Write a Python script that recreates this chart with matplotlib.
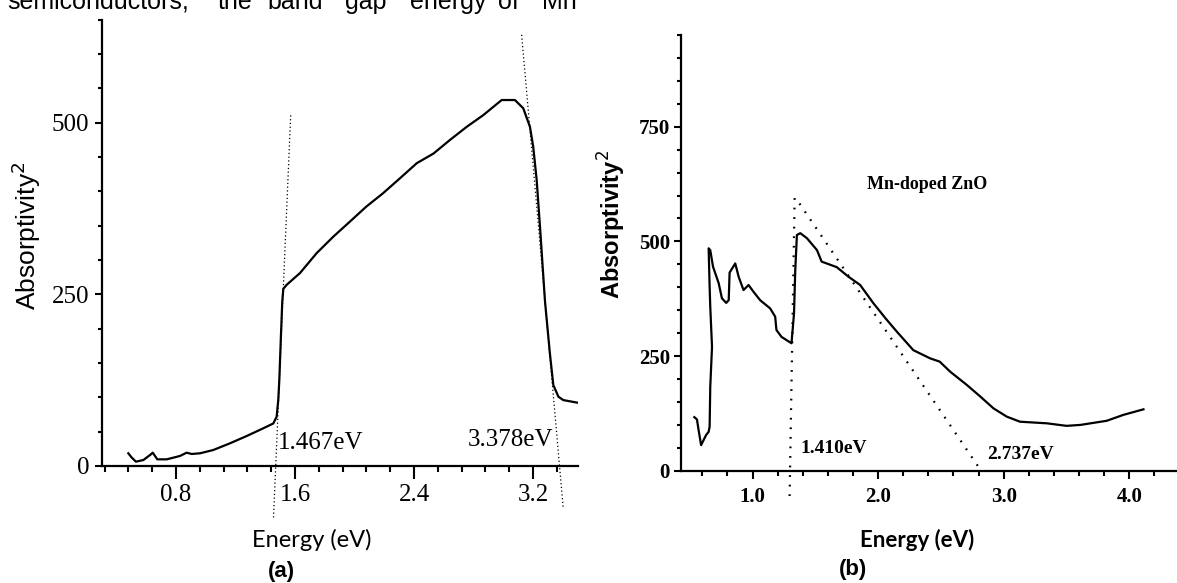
import numpy as np
import matplotlib.pyplot as plt
from matplotlib.ticker import MultipleLocator

# (a) absorptivity^2 vs energy
energy_a = [0.479, 0.50, 0.53, 0.58, 0.625, 0.643, 0.674, 0.737, 0.826, 0.871,
            0.905, 0.961, 1.05, 1.162, 1.275, 1.386, 1.454, 1.476, 1.487, 1.494,
            1.505, 1.514, 1.521, 1.544, 1.633, 1.745, 1.857, 1.969, 2.08, 2.19,
            2.305, 2.418, 2.53, 2.642, 2.754, 2.865, 2.955, 2.989, 3.078, 3.134,
            3.179, 3.201, 3.224, 3.247, 3.28, 3.313, 3.336, 3.37, 3.403, 3.504]
absorp_a = [18.5, 12.7, 6.3, 8.7, 16, 19.4, 9.7, 9.7, 14.6, 19.4,
            17.5, 18.5, 23.3, 33, 43.7, 54.9, 62, 71.8, 96, 125,
            190, 240, 258, 264, 281, 310, 334, 356, 378, 397,
            419, 441, 455, 475, 494, 511, 527, 533, 533, 521,
            494, 465, 417, 347, 240, 164, 118, 101, 96, 92]
# tangent lines (a)
tan1_a_x = [1.455, 1.571]
tan1_a_y = [-75, 513]
tan2_a_x = [3.123, 3.403]
tan2_a_y = [628, -62]

# (b) Mn-doped ZnO
energy_b = [0.536, 0.557, 0.57, 0.59, 0.61, 0.63, 0.65, 0.658, 0.663, 0.677,
            0.663, 0.658, 0.65, 0.663, 0.685, 0.73, 0.756, 0.79, 0.81, 0.817,
            0.862, 0.889, 0.928, 0.968, 1.008, 1.06, 1.14, 1.18, 1.19, 1.23,
            1.31, 1.33, 1.34, 1.353, 1.38, 1.433, 1.513, 1.55, 1.67, 1.764,
            1.857, 1.963, 2.06, 2.15, 2.28, 2.415, 2.49, 2.574, 2.707, 2.813,
            2.919, 3.025, 3.13, 3.344, 3.5, 3.61, 3.82, 3.954, 4.113]
absorp_b = [117, 112, 89, 56, 67, 78, 85, 96, 183, 270,
            358, 401, 485, 481, 445, 409, 376, 366, 372, 432,
            452, 423, 394, 405, 390, 372, 354, 336, 307, 292,
            278, 343, 438, 514, 518, 507, 481, 456, 444, 423,
            405, 365, 332, 303, 263, 245, 238, 216, 187, 162,
            136, 118, 107, 103.5, 98, 100, 109, 122, 134]
tan_b_x = [1.295, 1.335, 1.35, 2.82]
tan_b_y = [-55, 595, 592, 0]

W, H = 1177, 583
fig = plt.figure(figsize=(W / 100, H / 100), dpi=100)

# cut-off line of body text at the top
words = ['semiconductors,', 'the', 'band', 'gap', 'energy', 'of', 'Mn']
word_x = [7, 218, 267, 345, 410, 498, 542]
for w, x in zip(words, word_x):
    fig.text(x / W, 1 - 9 / H, w, fontsize=18, family='Liberation Sans',
             va='baseline', ha='left')

# ---- panel (a)
ax1 = fig.add_axes([101.7 / W, 1 - 466 / H, 476 / W, 446.3 / H])
ax1.plot(energy_a, absorp_a, color='black', lw=1.6)
ax1.plot(tan1_a_x, tan1_a_y, color='black', lw=0.9, ls=(0, (1, 2)), clip_on=False)
ax1.plot(tan2_a_x, tan2_a_y, color='black', lw=0.9, ls=(0, (1, 2)), clip_on=False)
ax1.set_xlim(0.3, 3.5)
ax1.set_ylim(0, 650)
ax1.set_xticks([0.8, 1.6, 2.4, 3.2])
ax1.set_xticklabels(['0.8', '1.6', '2.4', '3.2'])
ax1.xaxis.set_minor_locator(MultipleLocator(0.16))
ax1.yaxis.set_major_locator(MultipleLocator(250))
ax1.yaxis.set_minor_locator(MultipleLocator(50))
for lab in ax1.get_xticklabels() + ax1.get_yticklabels():
    lab.set_family('Liberation Serif')
    lab.set_fontsize(18)
ax1.tick_params(axis='x', which='major', length=9, width=1.5, pad=4)
ax1.tick_params(axis='x', which='minor', length=4, width=1.5)
ax1.tick_params(axis='y', which='major', length=5, width=1.5, pad=4)
ax1.tick_params(axis='y', which='minor', length=3, width=1.5)
for s in ['top', 'right']:
    ax1.spines[s].set_visible(False)
for s in ['left', 'bottom']:
    ax1.spines[s].set_linewidth(1.6)
ax1.text(1.485, 33, '1.467eV', family='Liberation Serif', fontsize=18, va='center')
ax1.text(2.762, 38, '3.378eV', family='Liberation Serif', fontsize=18, va='center')
ax1.set_ylabel('Absorptivity$^2$', family='Liberation Sans', fontsize=19)
ax1.yaxis.set_label_coords((43 - 101.7) / 476, (466 - 236) / 446.3)
fig.text(312 / W, 1 - 540 / H, 'Energy (eV)', family='Lato', fontsize=17,
         ha='center', va='center')
fig.text(281 / W, 1 - 572 / H, '(a)', family='Liberation Sans',
         fontweight='bold', fontsize=16, ha='center', va='center')

# ---- panel (b)
ax2 = fig.add_axes([681 / W, 1 - 470.8 / H, 496 / W, 435.8 / H])
ax2.plot(energy_b, absorp_b, color='black', lw=1.6)
ax2.plot(tan_b_x, tan_b_y, color='black', lw=1.6, ls=(0, (0.8, 3.5)), clip_on=False)
ax2.set_xlim(0.43, 4.38)
ax2.set_ylim(0, 950)
ax2.set_xticks([1.0, 2.0, 3.0, 4.0])
ax2.set_xticklabels(['1.0', '2.0', '3.0', '4.0'])
ax2.xaxis.set_minor_locator(MultipleLocator(0.2))
ax2.set_yticks([0, 250, 500, 750])
ax2.yaxis.set_minor_locator(MultipleLocator(50))
for lab in ax2.get_xticklabels() + ax2.get_yticklabels():
    lab.set_family('Liberation Serif')
    lab.set_fontweight('bold')
    lab.set_fontsize(15)
ax2.tick_params(axis='x', which='major', length=6, width=1.5, pad=6)
ax2.tick_params(axis='x', which='minor', length=3.5, width=1.5)
ax2.tick_params(axis='y', which='major', length=5, width=1.5, pad=3)
ax2.tick_params(axis='y', which='minor', length=3, width=1.5)
for s in ['top', 'right']:
    ax2.spines[s].set_visible(False)
for s in ['left', 'bottom']:
    ax2.spines[s].set_linewidth(1.6)
ax2.text(1.38, 48, '1.410eV', family='Liberation Serif', fontweight='bold',
         fontsize=14, va='center')
ax2.text(2.87, 35, '2.737eV', family='Liberation Serif', fontweight='bold',
         fontsize=14, va='center')
ax2.text(2.39, 625, 'Mn-doped ZnO', family='Liberation Serif', fontweight='bold',
         fontsize=13, ha='center', va='center')
ax2.set_ylabel('Absorptivity$^2$', family='Liberation Sans', fontweight='bold',
               fontsize=17)
ax2.yaxis.set_label_coords((628 - 681) / 496, (470.8 - 225) / 435.8)
fig.text(917 / W, 1 - 540 / H, 'Energy (eV)', family='Lato', fontweight='bold',
         fontsize=16, ha='center', va='center')
fig.text(853 / W, 1 - 570 / H, '(b)', family='Liberation Sans',
         fontweight='bold', fontsize=16, ha='center', va='center')

fig.savefig('out.png', dpi=100)
